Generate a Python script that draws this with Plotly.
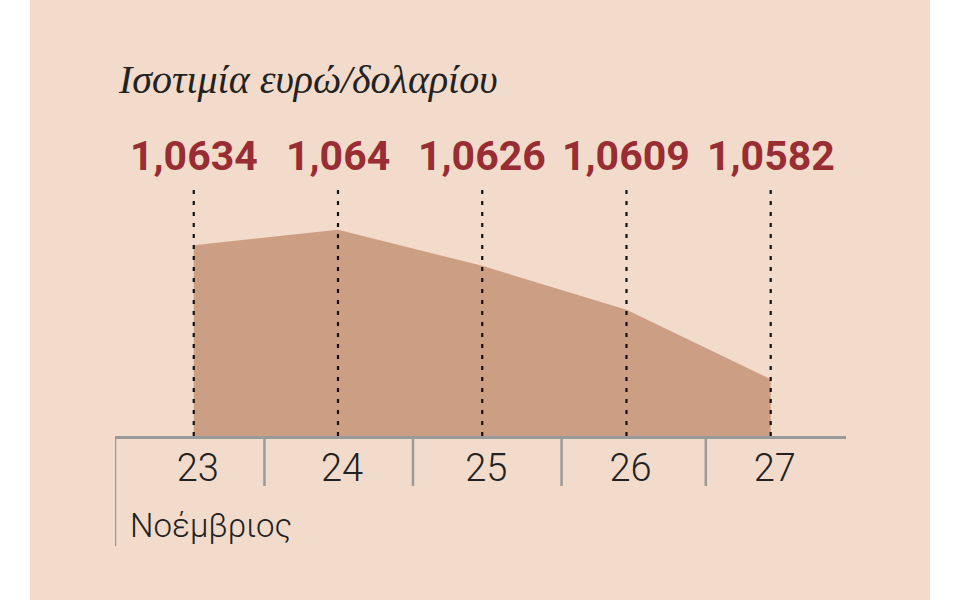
import plotly.graph_objects as go

# ---- data ----
days = [23, 24, 25, 26, 27]
day_labels = ["23", "24", "25", "26", "27"]
rates = [1.0634, 1.064, 1.0626, 1.0609, 1.0582]
month_label = "Νοέμβριος"
title_text = "Ισοτιμία ευρώ/δολαρίου"

# ---- layout geometry (pixels) ----
W, H = 960, 600
L, R = 115, 846          # plot area x span
T, B = 188, 436          # plot area y span
XR = [22.454, 27.522]
YR = [1.0560, 1.06562]


def px(x):
    return (x - L) / (R - L)


def py(y):
    return (B - y) / (B - T)


BG = "#f2dbcb"
AREA = "#cc9e84"
RED = "#982d33"
GRAY = "#9a9a9a"
INK = "#222222"

fig = go.Figure()
fig.add_trace(go.Scatter(
    x=days, y=rates, mode="lines", fill="tozeroy",
    fillcolor=AREA, line=dict(width=0, color=AREA), hoverinfo="skip",
))

shapes = [
    dict(type="rect", xref="paper", yref="paper", x0=px(30), x1=px(930),
         y0=py(600), y1=py(0), fillcolor=BG, line=dict(width=0), layer="below"),
]
for d in days:
    shapes.append(dict(type="line", xref="x", yref="paper", x0=d, x1=d,
                       y0=0, y1=1, line=dict(color="#111111", width=2.2, dash="4px,7px"),
                       layer="above"))
# category separators below the axis
sep_x = [XR[0], 23.49, 24.52, 25.55, 26.55]
for i, s in enumerate(sep_x):
    shapes.append(dict(type="line", xref="x", yref="paper", x0=s, x1=s,
                       y0=py(436), y1=py(546 if i == 0 else 486),
                       line=dict(color=GRAY, width=2.5), layer="above"))

annotations = [
    dict(text=title_text, xref="paper", yref="paper", x=px(116), y=py(80),
         xanchor="left", yanchor="middle", showarrow=False,
         font=dict(family="Liberation Serif", size=40, color=INK, style="italic")),
    dict(text=month_label, xref="paper", yref="paper", x=px(128), y=py(525),
         xanchor="left", yanchor="middle", showarrow=False,
         font=dict(family="Roboto", size=33, color=INK, weight=300)),
]
for d, v in zip(days, rates):
    annotations.append(dict(
        text="<b>" + f"{v:g}".replace(".", ",") + "</b>", xref="x", yref="paper",
        x=d, y=py(156), xanchor="center", yanchor="middle", showarrow=False,
        font=dict(family="Roboto", size=41, color=RED)))

fig.update_layout(
    width=W, height=H,
    margin=dict(l=L, r=W - R, t=T, b=H - B, pad=0),
    paper_bgcolor="white", plot_bgcolor="rgba(0,0,0,0)",
    showlegend=False,
    shapes=shapes, annotations=annotations,
    xaxis=dict(range=XR, showgrid=False, zeroline=False, showline=True,
               linecolor=GRAY, linewidth=3, ticks="", tickvals=days,
               ticktext=day_labels, ticklabelshift=4, ticklabelstandoff=-4,
               tickfont=dict(family="Roboto", size=38, color=INK, weight=300),
               fixedrange=True),
    yaxis=dict(range=YR, visible=False, fixedrange=True),
)

fig.write_html("out.html", config={"displayModeBar": False},
               post_script="document.body.style.margin='0px';")
